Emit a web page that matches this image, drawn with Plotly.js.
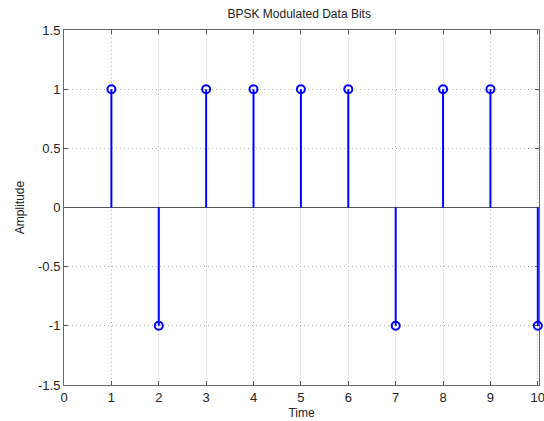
<!DOCTYPE html>
<html>
<head>
<meta charset="utf-8">
<script src="https://cdn.plot.ly/plotly-3.0.1.min.js"></script>
<style>html,body{margin:0;padding:0;background:#fff;}#chart{width:544px;height:421px;}</style>
</head>
<body>
<div id="chart"></div>
<script>
const timeIdx = [1, 2, 3, 4, 5, 6, 7, 8, 9, 10];
const bits = [1, -1, 1, 1, 1, 1, -1, 1, 1, -1];
const xTicks = [0, 1, 2, 3, 4, 5, 6, 7, 8, 9, 10];
const yTicks = [-1.5, -1, -0.5, 0, 0.5, 1, 1.5];
const yTickText = ['-1.5', '-1', '-0.5', '0', '0.5', '1', '1.5'];

const blue = '#0000ff';
const traces = [
  {type: 'bar', x: timeIdx, y: bits, base: 0, width: 0.042, cliponaxis: false,
   marker: {color: blue, line: {width: 0}}, hoverinfo: 'skip'},
  {type: 'scatter', x: timeIdx, y: bits, mode: 'markers', cliponaxis: false,
   marker: {symbol: 'circle-open', size: 8, color: blue, line: {color: blue, width: 2}}}
];

const font = {family: 'Liberation Sans, Arial, sans-serif', color: '#222'};
const layout = {
  width: 544, height: 421,
  margin: {l: 64, r: 5, t: 30, b: 36},
  paper_bgcolor: '#fff', plot_bgcolor: '#fff',
  showlegend: false,
  font: font,
  title: {text: 'BPSK Modulated Data Bits', font: {size: 12, family: font.family, color: '#222'}, x: 0.55, xanchor: 'center', y: 0.968, yanchor: 'middle'},
  xaxis: {
    range: [0, 10.025], tickvals: xTicks, ticktext: xTicks.map(String),
    ticks: 'inside', ticklen: 4, tickcolor: '#555', tickwidth: 1,
    showline: true, linecolor: '#666', linewidth: 1, mirror: 'ticks',
    showgrid: true, gridcolor: '#b4b4b4', griddash: '1px,3px', gridwidth: 1,
    zeroline: false, tickfont: {size: 13, color: '#222'},
    ticklabeloverflow: 'allow', layer: 'below traces',
    title: {text: 'Time', font: {size: 12, color: '#222'}, standoff: 5}
  },
  yaxis: {
    range: [-1.5, 1.5], tickvals: yTicks, ticktext: yTickText,
    ticks: 'inside', ticklen: 4, tickcolor: '#555', tickwidth: 1,
    showline: true, linecolor: '#666', linewidth: 1, mirror: 'ticks',
    showgrid: true, gridcolor: '#b4b4b4', griddash: '1px,3px', gridwidth: 1,
    zeroline: true, zerolinecolor: '#555', zerolinewidth: 1.5,
    tickfont: {size: 13, color: '#222'}, layer: 'below traces',
    title: {text: 'Amplitude', font: {size: 12, color: '#222'}, standoff: 10}
  }
};
Plotly.newPlot('chart', traces, layout, {staticPlot: true, displayModeBar: false});
</script>
</body>
</html>
